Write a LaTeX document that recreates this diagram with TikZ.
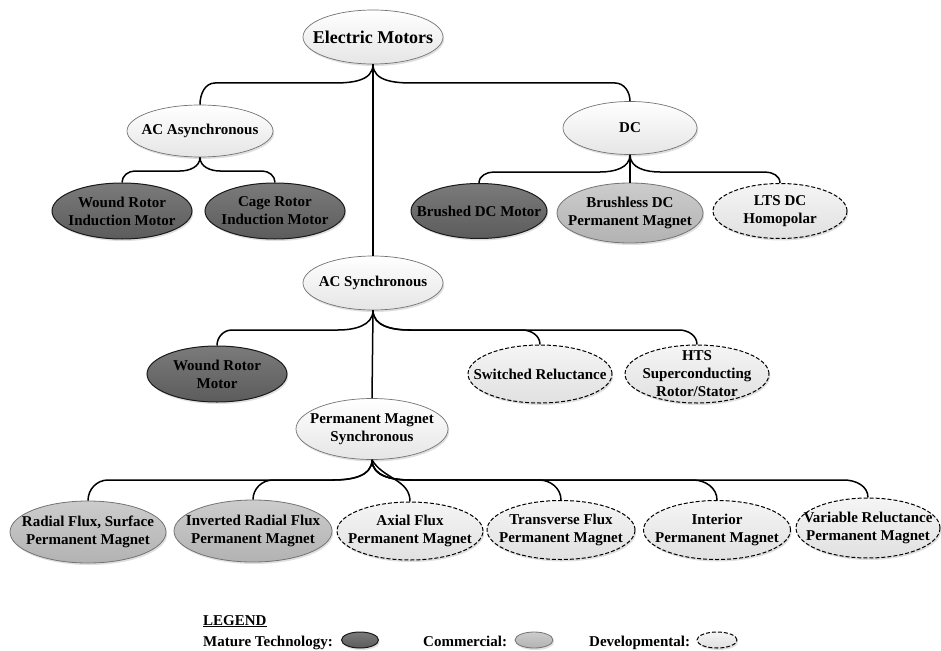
\documentclass[tikz,border=0pt]{standalone}
\usepackage{fontspec}
\setmainfont{Liberation Serif}
\usetikzlibrary{shapes.geometric,shadows,calc}
\newcommand\brR[5]{\draw[conn] (#1.south) to[out=-90,in=180] ($(#1.south |- #3)+(#4,0)$) -- ($(#2.north |- #3)+(-#5,0)$) to[out=0,in=90] (#2.north);}
\newcommand\brL[5]{\draw[conn] (#1.south) to[out=-90,in=0] ($(#1.south |- #3)+(-#4,0)$) -- ($(#2.north |- #3)+(#5,0)$) to[out=180,in=90] (#2.north);}
\begin{document}
\begin{tikzpicture}[x=1pt,y=1pt,
  every label/.style={align=center, inner sep=0pt, font=\fontsize{15}{18}\selectfont\bfseries},
  base/.style={ellipse, inner sep=0pt, drop shadow={shadow xshift=1.2pt, shadow yshift=-2pt, opacity=0.25}},
  lvl/.style={base, draw=black!55, line width=0.7pt, top color=white, bottom color=black!10},
  mat/.style={base, draw=black!90, line width=1pt, top color=black!52, bottom color=black!64},
  com/.style={base, draw=black!55, line width=0.8pt, top color=black!20, bottom color=black!30},
  dev/.style={base, draw=black, dash pattern=on 4pt off 2pt, line width=1pt, top color=black!4, bottom color=black!12},
  conn/.style={draw=black, line width=1.5pt},
  legtxt/.style={anchor=base west, inner sep=0pt, font=\fontsize{15}{18}\selectfont\bfseries}
]
\useasboundingbox (0,0) rectangle (941,-650);

% levels
\coordinate (l1) at (0,-83);
\coordinate (l2) at (0,-171);
\coordinate (l2b) at (0,-172);
\coordinate (l3) at (0,-330);
\coordinate (l4) at (0,-480);

% nodes
\node[lvl, minimum width=140pt, minimum height=54pt,
  label={[font=\fontsize{18}{21}\selectfont\bfseries]center:{Electric Motors}}] (em) at (373,-37) {};
\node[lvl, minimum width=146pt, minimum height=52pt, label={center:{AC Asynchronous}}] (aca) at (200,-131) {};
\node[lvl, minimum width=134pt, minimum height=53pt, label={center:{DC}}] (dc) at (630,-128) {};

\node[mat, minimum width=140pt, minimum height=56pt, label={center:{Wound Rotor\\Induction Motor}}] (wri) at (122,-211) {};
\node[mat, minimum width=140pt, minimum height=56pt, label={center:{Cage Rotor\\Induction Motor}}] (cri) at (275,-211) {};
\node[mat, minimum width=136pt, minimum height=55pt, label={center:{Brushed DC Motor}}] (bdc) at (479,-211) {};
\node[com, minimum width=146pt, minimum height=60pt, label={center:{Brushless DC\\Permanent Magnet}}] (bldc) at (630,-213) {};
\node[dev, minimum width=134pt, minimum height=55pt, label={center:{LTS DC\\Homopolar}}] (lts) at (780,-211) {};

\node[lvl, minimum width=140pt, minimum height=54pt, label={center:{AC Synchronous}}] (acs) at (373,-283) {};
\node[mat, minimum width=140pt, minimum height=56pt, label={center:{Wound Rotor\\Motor}}] (wrm) at (217,-374) {};
\node[dev, minimum width=144pt, minimum height=58pt, label={center:{Switched Reluctance}}] (sr) at (540,-374) {};
\node[dev, minimum width=144pt, minimum height=58pt, label={center:{HTS\\Superconducting\\Rotor/Stator}}] (hts) at (697,-374) {};

\node[lvl, minimum width=152pt, minimum height=61pt, label={center:{Permanent Magnet\\Synchronous}}] (pms) at (372,-429) {};
\node[com, minimum width=156pt, minimum height=62pt, label={center:{Radial Flux, Surface\\Permanent Magnet}}] (rf) at (88,-532) {};
\node[com, minimum width=158pt, minimum height=62pt, label={center:{Inverted Radial Flux\\Permanent Magnet}}] (irf) at (253,-531) {};
\node[dev, minimum width=146pt, minimum height=58pt, label={center:{Axial Flux\\Permanent Magnet}}] (af) at (410,-531) {};
\node[dev, minimum width=148pt, minimum height=59pt, label={center:{Transverse Flux\\Permanent Magnet}}] (tf) at (561,-530) {};
\node[dev, minimum width=147pt, minimum height=59pt, label={center:{Interior\\Permanent Magnet}}] (ipm) at (717,-530) {};
\node[dev, minimum width=144pt, minimum height=60pt, label={center:{Variable Reluctance\\Permanent Magnet}}] (vr) at (868,-528) {};

% connectors
\brL{em}{aca}{l1}{40}{15}
\brR{em}{dc}{l1}{40}{15}
\draw[conn] (em.south) -- (acs.north);

\brL{aca}{wri}{l2}{20}{13}
\brR{aca}{cri}{l2}{20}{13}

\brL{dc}{bdc}{l2b}{30}{15}
\draw[conn] (dc.south) -- (bldc.north);
\brR{dc}{lts}{l2b}{30}{15}

\brL{acs}{wrm}{l3}{35}{15}
\brR{acs}{sr}{l3}{35}{18}
\brR{acs}{hts}{l3}{38}{18}
\draw[conn] (acs.south) -- (pms.north);

\brL{pms}{rf}{l4}{40}{20}
\brL{pms}{irf}{l4}{38}{20}
\draw[conn] (pms.south) to[out=-60,in=90] (af.north);
\brR{pms}{tf}{l4}{36}{22}
\brR{pms}{ipm}{l4}{38}{24}
\brR{pms}{vr}{l4}{40}{24}

% legend
\node[legtxt] (legt) at (203,-625) {\underline{LEGEND}};
\node[legtxt] (legm) at (203,-646) {Mature Technology:};
\node[mat, minimum width=37pt, minimum height=16pt] (lm) at (360,-640) {};
\node[legtxt] (legc) at (423,-646) {Commercial:};
\node[com, minimum width=38pt, minimum height=16pt] (lc) at (534,-640) {};
\node[legtxt] (legd) at (589,-646) {Developmental:};
\node[dev, minimum width=40pt, minimum height=16pt] (ld) at (717,-640) {};
\end{tikzpicture}
\end{document}
